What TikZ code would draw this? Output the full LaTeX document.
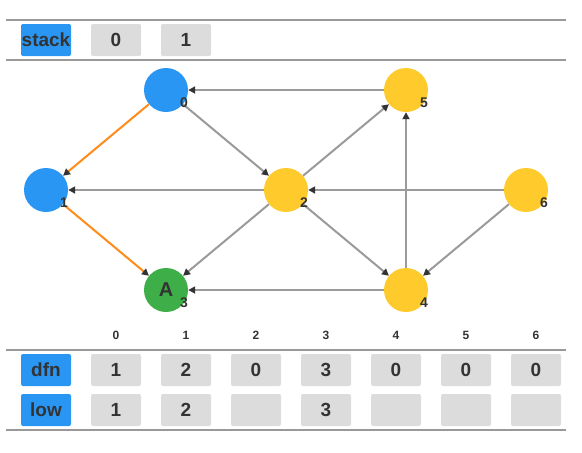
\documentclass[tikz,border=0pt]{standalone}
\usepackage{fontspec}
\setmainfont{Liberation Sans}
\usetikzlibrary{arrows.meta}

\begin{document}
\begin{tikzpicture}[x=1pt, y=-1pt, font=\bfseries]

	% ==========================================
	% 1. COLOURS
	% ==========================================
	\definecolor{rulecol}{RGB}{153, 153, 153}   % grey rules of the table
	\definecolor{edgecol}{RGB}{155, 155, 155}   % grey edges
	\definecolor{treecol}{RGB}{255, 140, 26}    % orange tree edges
	\definecolor{bluecol}{RGB}{42, 150, 243}    % visited vertices / row heads
	\definecolor{yellowcol}{RGB}{255, 202, 44}  % unvisited vertices
	\definecolor{greencol}{RGB}{62, 174, 72}    % current vertex
	\definecolor{cellcol}{RGB}{220, 220, 220}   % grey cells
	\definecolor{textcol}{RGB}{51, 51, 51}      % dark text

	% ==========================================
	% 2. STYLES
	% ==========================================
	\tikzset{
		vertex/.style={circle, minimum size=44pt, inner sep=0pt, text=textcol,
			font=\fontsize{20}{20}\selectfont\bfseries},
		vlabel/.style={text=textcol, inner sep=0pt, font=\fontsize{14}{14}\selectfont\bfseries},
		idx/.style={text=textcol, inner sep=0pt, font=\fontsize{12}{12}\selectfont\bfseries},
		edge/.style={edgecol, line width=2pt,
			-{Triangle[length=7pt, width=7pt, color=textcol]}},
		tree/.style={edge, treecol},
		cell/.style={fill=cellcol, rounded corners=2pt, minimum width=50pt, minimum height=32pt,
			inner sep=0pt, text=textcol, font=\fontsize{19}{19}\selectfont\bfseries},
		head/.style={cell, fill=bluecol},
		rule/.style={rulecol, line width=2pt}
	}

	\useasboundingbox (0,0) rectangle (582,453);

	% ==========================================
	% 3. STACK
	% ==========================================
	\draw[rule] (6,20) -- (566,20);
	\draw[rule] (6,60) -- (566,60);
	\node[head] (stack) at (46,40) {\makebox[0pt]{stack}};
	\node[cell] (s0) at (116,40) {0};
	\node[cell] (s1) at (186,40) {1};

	% ==========================================
	% 4. VERTICES
	% ==========================================
	\node[vertex, fill=bluecol] (v0) at (166,90) {};
	\node[vertex, fill=bluecol] (v1) at (46,190) {};
	\node[vertex, fill=yellowcol] (v2) at (286,190) {};
	\node[vertex, fill=greencol] (v3) at (166,290) {A};
	\node[vertex, fill=yellowcol] (v4) at (406,290) {};
	\node[vertex, fill=yellowcol] (v5) at (406,90) {};
	\node[vertex, fill=yellowcol] (v6) at (526,190) {};

	% ==========================================
	% 5. EDGES
	% ==========================================
	\draw[edge] (v5) -- (v0);
	\draw[edge] (v0) -- (v2);
	\draw[edge] (v2) -- (v5);
	\draw[edge] (v2) -- (v1);
	\draw[edge] (v6) -- (v2);
	\draw[edge] (v2) -- (v4);
	\draw[edge] (v2) -- (v3);
	\draw[edge] (v4) -- (v3);
	\draw[edge] (v4) -- (v5);
	\draw[edge] (v6) -- (v4);

	% tree edges
	\draw[tree] (v0) -- (v1);
	\draw[tree] (v1) -- (v3);

	% vertex numbers
	\foreach \v in {0,...,6} {
		\node[vlabel] (n\v) at ([xshift=18pt, yshift=-13pt]v\v.center) {\v};
	}

	% ==========================================
	% 6. DFN / LOW TABLE
	% ==========================================
	\foreach \i in {0,...,6} {
		\node[idx] (col\i) at (116+70*\i,335) {\i};
	}
	\draw[rule] (6,350) -- (566,350);
	\draw[rule] (6,430) -- (566,430);

	\node[head] (dfn) at (46,370) {dfn};
	\node[head] (low) at (46,410) {low};
	\foreach \d [count=\i from 0] in {1,2,0,3,0,0,0} {
		\node[cell] (dfn\i) at (116+70*\i,370) {\d};
	}
	\foreach \l [count=\i from 0] in {1,2,{},3,{},{},{}} {
		\node[cell] (low\i) at (116+70*\i,410) {\l};
	}

\end{tikzpicture}
\end{document}
